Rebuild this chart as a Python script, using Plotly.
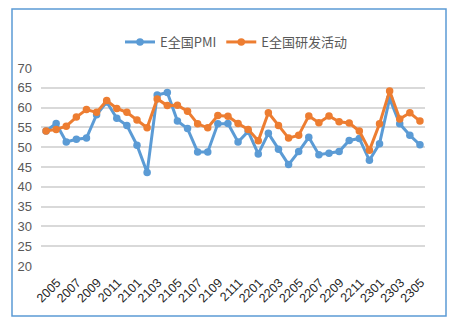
import plotly.graph_objects as go

# Monthly periods (YYMM), May 2020 through June 2023
months = [
    "2005", "2006", "2007", "2008", "2009", "2010", "2011", "2012",
    "2101", "2102", "2103", "2104", "2105", "2106", "2107", "2108", "2109", "2110", "2111", "2112",
    "2201", "2202", "2203", "2204", "2205", "2206", "2207", "2208", "2209", "2210", "2211", "2212",
    "2301", "2302", "2303", "2304", "2305", "2306",
]

pmi = [
    54.1, 56.0, 51.3, 52.0, 52.3, 58.2, 61.4, 57.3,
    55.5, 50.5, 43.6, 63.2, 63.8, 56.6, 54.7, 48.8, 48.8, 55.9, 56.0, 51.3,
    54.0, 48.3, 53.5, 49.5, 45.6, 48.9, 52.5, 48.1, 48.5, 48.9, 51.7, 52.2,
    46.7, 50.9, 62.3, 55.9, 53.0, 50.6,
]

rnd = [
    54.1, 54.5, 55.3, 57.6, 59.5, 58.8, 61.8, 59.8,
    58.8, 56.9, 54.9, 62.2, 60.5, 60.6, 59.1, 55.9, 54.9, 58.0, 57.8, 56.0,
    54.5, 51.6, 58.7, 55.5, 52.3, 53.0, 57.9, 56.2, 57.9, 56.4, 56.1, 54.1,
    49.2, 55.9, 64.2, 57.1, 58.7, 56.6,
]

tick_labels = months[::2]

BLUE = "#5B9BD5"
ORANGE = "#ED7D31"
GRAY = "#595959"
FONT = "Liberation Sans Narrow, Liberation Sans, Noto Sans CJK SC"

fig = go.Figure()
fig.add_trace(go.Scatter(
    x=months, y=pmi, name="E全国PMI", mode="lines+markers",
    line=dict(color=BLUE, width=3), marker=dict(color=BLUE, size=7.5),
))
fig.add_trace(go.Scatter(
    x=months, y=rnd, name="E全国研发活动", mode="lines+markers",
    line=dict(color=ORANGE, width=3), marker=dict(color=ORANGE, size=7.5),
))

L, R, T, B = 41, 33, 68, 59
W, H = 458, 325
pw, ph = W - L - R, H - T - B

def px_to_paper_x(px):
    return (px - L) / pw

def px_to_paper_y(py):
    return (H - B - py) / ph

# Outer chart frame
fig.add_shape(
    type="rect", xref="paper", yref="paper",
    x0=px_to_paper_x(12), x1=px_to_paper_x(446),
    y0=px_to_paper_y(316), y1=px_to_paper_y(9),
    line=dict(color=BLUE, width=1.5), fillcolor="rgba(0,0,0,0)", layer="below",
)

fig.update_layout(
    width=W, height=H,
    margin=dict(l=L, r=R, t=T, b=B, pad=0),
    paper_bgcolor="white", plot_bgcolor="white",
    font=dict(family=FONT, color=GRAY, size=12),
    showlegend=True,
    legend=dict(
        orientation="h", x=px_to_paper_x(236), xanchor="center",
        y=px_to_paper_y(42), yanchor="middle",
        font=dict(size=13, color=GRAY, family="Noto Sans CJK SC"),
        itemwidth=30, tracegroupgap=0,
    ),
    xaxis=dict(
        type="category", tickmode="array", tickvals=tick_labels, ticktext=tick_labels,
        tickangle=-45, showgrid=False, showline=False, zeroline=False,
        tickfont=dict(size=12.5, color="#262626", family=FONT),
        ticks="", ticklabelshift=11, ticklabelstandoff=6,
        range=[-0.5, len(months) - 0.5],
    ),
    yaxis=dict(
        range=[20, 70], dtick=5, tick0=20,
        showgrid=True, gridcolor="#D9D9D9", gridwidth=1.5,
        showline=False, zeroline=False, ticks="",
        tickfont=dict(size=13, color=GRAY, family=FONT),
        ticklabelstandoff=8,
    ),
)

fig.write_html("out.html")
